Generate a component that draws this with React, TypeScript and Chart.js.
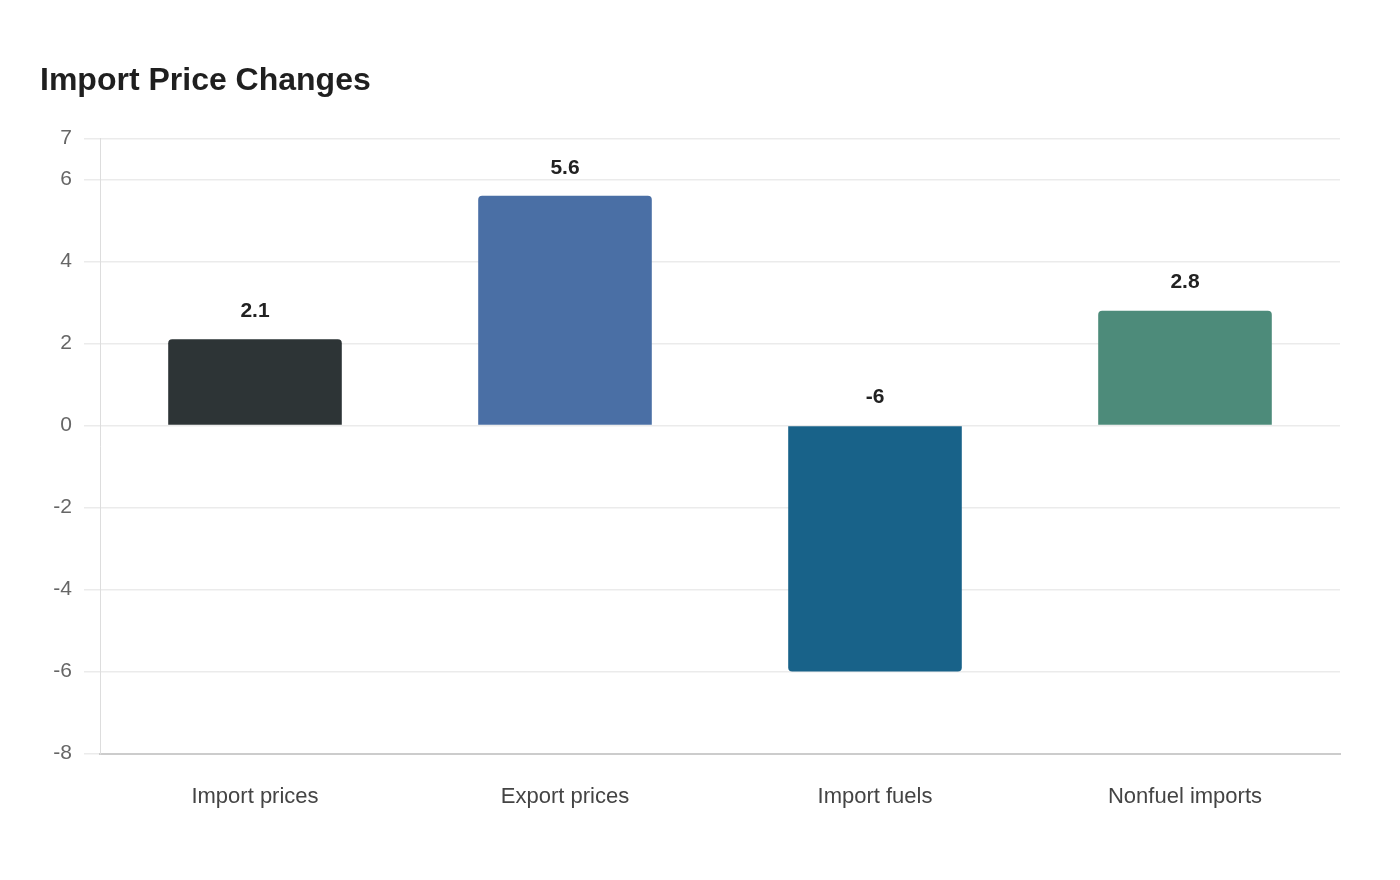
import React, { useRef, useEffect } from "react";
import { Chart, registerables } from "chart.js";

Chart.register(...registerables);

const categories = ["Import prices", "Export prices", "Import fuels", "Nonfuel imports"];
const values = [2.1, 5.6, -6, 2.8];
const barColors = ["#2d3436", "#4a6fa5", "#186289", "#4d8b7a"];
const yTickValues = [-8, -6, -4, -2, 0, 2, 4, 6, 7];

const FONT = '"Liberation Sans", Arial, Helvetica, sans-serif';

// draws the value above each bar (above the zero line for negatives)
const valueLabels = {
  id: "valueLabels",
  afterDatasetsDraw(chart: Chart) {
    const { ctx } = chart;
    const yScale = chart.scales.y;
    const meta = chart.getDatasetMeta(0);
    ctx.save();
    ctx.font = `bold 21px ${FONT}`;
    ctx.fillStyle = "#222222";
    ctx.textAlign = "center";
    ctx.textBaseline = "middle";
    meta.data.forEach((bar: any, i: number) => {
      const v = values[i];
      const y = yScale.getPixelForValue(Math.max(v, 0)) - 28;
      ctx.fillText(String(v), bar.x, y);
    });
    ctx.restore();
  },
};

export default function App() {
  const canvasRef = useRef<HTMLCanvasElement | null>(null);
  const chartRef = useRef<Chart | null>(null);

  useEffect(() => {
    if (!canvasRef.current) return;
    if (chartRef.current) chartRef.current.destroy();

    chartRef.current = new Chart(canvasRef.current, {
      type: "bar",
      data: {
        labels: categories,
        datasets: [
          {
            data: values,
            backgroundColor: barColors,
            borderRadius: 4,
            categoryPercentage: 1,
            barPercentage: 0.56,
          },
        ],
      },
      options: {
        animation: false,
        responsive: true,
        maintainAspectRatio: false,
        layout: {
          padding: { top: 52, left: 40, right: 60, bottom: 48 },
        },
        plugins: {
          legend: { display: false },
          tooltip: { enabled: false },
          title: {
            display: true,
            text: "Import Price Changes",
            align: "start",
            color: "#1f1f1f",
            font: { family: FONT, size: 32, weight: "bold" },
            padding: { top: 10, bottom: 38 },
          },
        },
        scales: {
          x: {
            grid: { display: false },
            border: { display: true, color: "#cccccc", width: 2 },
            ticks: {
              color: "#444444",
              font: { family: FONT, size: 22 },
              padding: 22,
            },
          },
          y: {
            min: -8,
            max: 7,
            afterBuildTicks: (scale: any) => {
              scale.ticks = yTickValues.map((v) => ({ value: v }));
            },
            afterFit: (scale: any) => {
              scale.width = 60;
            },
            grid: {
              color: "#ebebeb",
              lineWidth: 1.5,
              drawTicks: true,
              tickLength: 16,
            },
            border: { display: true, color: "#dddddd", width: 1 },
            ticks: {
              color: "#666666",
              font: { family: FONT, size: 21 },
              padding: 12,
            },
          },
        },
      },
      plugins: [valueLabels],
    });

    return () => {
      if (chartRef.current) {
        chartRef.current.destroy();
        chartRef.current = null;
      }
    };
  }, []);

  return (
    <div
      style={{
        position: "absolute",
        left: 0,
        top: 0,
        width: 1400,
        height: 880,
        background: "#ffffff",
      }}
    >
      <canvas ref={canvasRef} />
    </div>
  );
}
